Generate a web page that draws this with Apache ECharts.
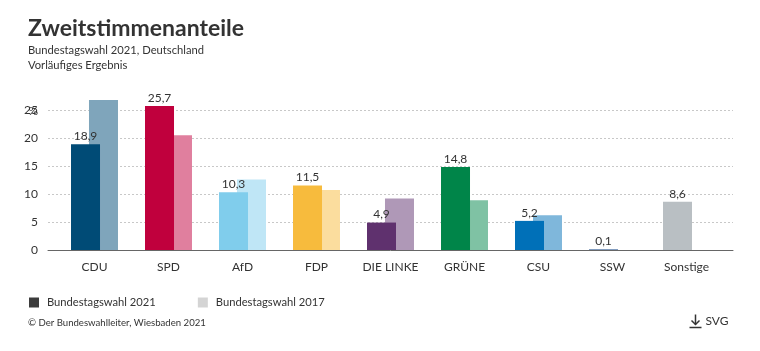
<!DOCTYPE html>
<html>
<head>
<meta charset="utf-8">
<script src="https://cdn.jsdelivr.net/npm/echarts@6/dist/echarts.min.js"></script>
<style>
  html, body { margin: 0; padding: 0; background: #fff; }
  #chart { width: 760px; height: 351px; }
</style>
</head>
<body>
<div id="chart"></div>
<script>
// Parteien
const categories = ['CDU', 'SPD', 'AfD', 'FDP', 'DIE LINKE', 'GRÜNE', 'CSU', 'SSW', 'Sonstige']
// Zweitstimmenanteile in %
const share2021 = [18.9, 25.7, 10.3, 11.5, 4.9, 14.8, 5.2, 0.1, 8.6]
const share2017 = [26.8, 20.5, 12.6, 10.7, 9.2, 8.9, 6.2, null, null]
const colors2021 = ['#004b76', '#c0003d', '#80cdec', '#f7bb3d', '#5f316e', '#008549', '#0070b8', '#1f4e8c', '#b9bfc3']
const colors2017 = ['#7fa5bb', '#e07f9e', '#bfe6f6', '#fbdd9e', '#af98b7', '#7fc2a4', '#7fb7db', '#8fa6c5', '#dcdfe1']

const font = 'Lato'
const textColor = '#333'

const fmt = v => v.toFixed(1).replace('.', ',')

const chart = echarts.init(document.getElementById('chart'))

const option = {
  animation: false,
  textStyle: { fontFamily: font, color: textColor },
  title: {
    text: 'Zweitstimmenanteile',
    subtext: 'Bundestagswahl 2021, Deutschland\nVorläufiges Ergebnis',
    left: 23,
    top: 12,
    itemGap: 3,
    textStyle: { fontFamily: font, fontSize: 23, fontWeight: 'bold', color: textColor },
    subtextStyle: { fontFamily: font, fontSize: 11.2, color: textColor, lineHeight: 15 }
  },
  legend: {
    data: ['Bundestagswahl 2021', 'Bundestagswahl 2017'],
    left: 24,
    top: 292,
    icon: 'rect',
    itemWidth: 10,
    itemHeight: 10,
    itemGap: 42,
    textStyle: { fontFamily: font, fontSize: 11.2, color: textColor, padding: [0, 0, 0, 3] }
  },
  grid: [
    // Achsenlinie und Hilfslinien
    { left: 48, right: 27, top: 110, bottom: 101 },
    // Balken
    { left: 57.5, right: 36.5, top: 110, bottom: 101 }
  ],
  xAxis: [
    {
      gridIndex: 0,
      type: 'value',
      min: 0,
      max: 1,
      axisLine: { show: true, lineStyle: { color: '#666', width: 1 } },
      axisTick: { show: false },
      axisLabel: { show: false },
      splitLine: { show: false }
    },
    {
      gridIndex: 1,
      type: 'category',
      data: categories,
      axisLine: { show: false },
      axisTick: { show: false },
      axisLabel: { fontFamily: font, fontSize: 12, color: textColor, margin: 11, interval: 0 }
    }
  ],
  yAxis: [
    {
      gridIndex: 0,
      type: 'value',
      min: 0,
      max: 25,
      interval: 5,
      axisLine: { show: false },
      axisTick: { show: false },
      axisLabel: { fontFamily: font, fontSize: 12, color: textColor, margin: 10 },
      splitLine: { show: true, lineStyle: { color: '#c8c8c8', width: 1, type: [2, 2] } }
    },
    {
      gridIndex: 1,
      type: 'value',
      min: 0,
      max: 25,
      show: false
    }
  ],
  series: [
    {
      name: 'Bundestagswahl 2021',
      type: 'bar',
      xAxisIndex: 1,
      yAxisIndex: 1,
      z: 3,
      clip: false,
      barWidth: 29,
      barGap: '-38%',
      itemStyle: { color: '#3c3c3c' },
      data: share2021.map((v, i) => ({ value: v, itemStyle: { color: colors2021[i] } })),
      label: {
        show: true,
        position: 'top',
        distance: 2,
        fontFamily: font,
        fontSize: 12,
        color: textColor,
        formatter: p => fmt(p.value)
      }
    },
    {
      name: 'Bundestagswahl 2017',
      type: 'bar',
      xAxisIndex: 1,
      yAxisIndex: 1,
      z: 2,
      clip: false,
      barWidth: 29,
      itemStyle: { color: '#d4d4d4' },
      data: share2017.map((v, i) => ({ value: v, itemStyle: { color: colors2017[i] } }))
    }
  ],
  graphic: [
    // Einheit, liegt wie im Original über der obersten Beschriftung
    {
      type: 'text',
      x: 38,
      y: 111,
      z: 10,
      style: { text: '%', align: 'right', verticalAlign: 'middle', fontFamily: font, fontSize: 12, fill: textColor }
    },
    {
      type: 'text',
      left: 28,
      top: 318,
      style: { text: '© Der Bundeswahlleiter, Wiesbaden 2021', fontFamily: font, fontSize: 9.6, fill: textColor }
    },
    {
      type: 'group',
      left: 687,
      top: 312,
      children: [
        { type: 'line', shape: { x1: 6, y1: 0, x2: 6, y2: 10 }, style: { stroke: '#333', lineWidth: 1.5 } },
        { type: 'polyline', shape: { points: [[2, 6], [6, 10], [10, 6]] }, style: { stroke: '#333', lineWidth: 1.5, fill: null } },
        { type: 'line', shape: { x1: 0, y1: 13, x2: 12, y2: 13 }, style: { stroke: '#333', lineWidth: 1.5 } },
        { type: 'text', x: 16, y: 1, style: { text: 'SVG', fontFamily: font, fontSize: 12, fill: textColor } }
      ]
    }
  ]
}

chart.setOption(option)
</script>
</body>
</html>
